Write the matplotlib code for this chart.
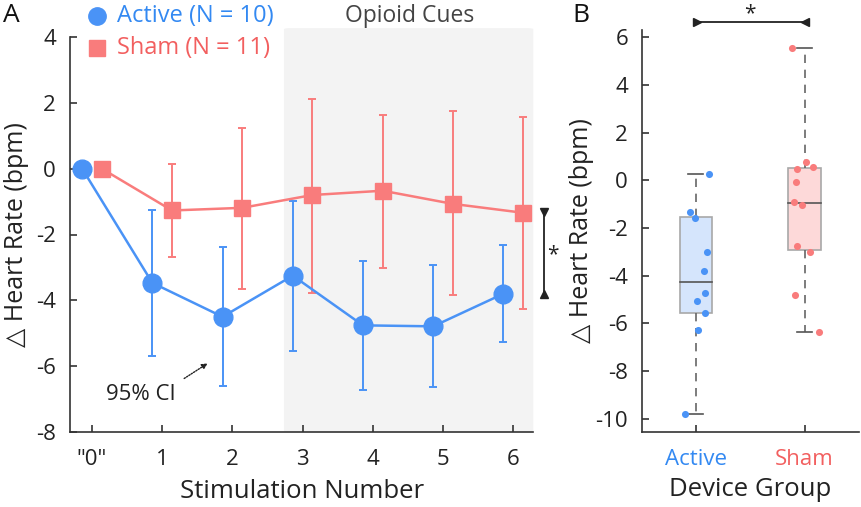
import matplotlib
matplotlib.use("Agg")
import matplotlib.pyplot as plt
from matplotlib.patches import FancyBboxPatch, Rectangle
import numpy as np

plt.rcParams['font.family'] = ['Open Sans', 'DejaVu Sans']

# ---------------- data ----------------
stim = [0, 1, 2, 3, 4, 5, 6]
stim_labels = ['"0"', '1', '2', '3', '4', '5', '6']

active_mean = [0, -3.47, -4.50, -3.25, -4.76, -4.79, -3.80]
active_hi = [0, -1.27, -2.38, -0.97, -2.79, -2.94, -2.31]
active_lo = [0, -5.70, -6.60, -5.53, -6.73, -6.63, -5.26]

sham_mean = [0, -1.27, -1.19, -0.80, -0.67, -1.07, -1.34]
sham_hi = [0, 0.14, 1.23, 2.11, 1.64, 1.74, 1.58]
sham_lo = [0, -2.69, -3.65, -3.77, -3.01, -3.85, -4.25]

groups = ['Active', 'Sham']
active_pts = [0.25, -1.33, -1.58, -3.03, -3.79, -4.73, -5.08, -5.57, -6.27, -9.81]
active_jit = [1.122, 0.945, 0.988, 1.10, 1.073, 1.08, 1.012, 1.085, 1.016, 0.896]
sham_pts = [5.53, 0.78, 0.57, 0.45, -0.08, -0.92, -1.04, -2.78, -2.99, -4.81, -6.37]
sham_jit = [1.883, 2.009, 2.076, 1.927, 1.917, 1.902, 1.972, 1.927, 2.046, 1.915, 2.131]
# box stats: whislo, q1, med, q3, whishi
active_box = [-9.79, -5.55, -4.25, -1.54, 0.25]
sham_box = [-6.35, -2.91, -0.94, 0.52, 5.53]

BLUE = '#4A93F6'
RED = '#F97C7C'
BLUE_T = '#3389F2'
RED_T = '#F25F5F'
DARK = '#333333'
TXT = '#222222'

fig = plt.figure(figsize=(8.62, 5.07), dpi=100)

# ---------------- Panel A ----------------
axA = fig.add_axes([70/862, 1-432/507, 463.3/862, 395/507])
off = 0.14
xa = np.array(stim) - off
xs = np.array(stim) + off

shade = FancyBboxPatch((2.735, -8), 6.286 - 2.735, 12.27, boxstyle="round,pad=0,rounding_size=0.08",
                       facecolor='#F3F3F3', edgecolor='none', zorder=0, clip_on=False,
                       mutation_aspect=33/70.2)
axA.add_patch(shade)

am = np.array(active_mean); sm = np.array(sham_mean)
aerr = [am - np.array(active_lo), np.array(active_hi) - am]
serr = [sm - np.array(sham_lo), np.array(sham_hi) - sm]

axA.errorbar(xs[1:], sm[1:], yerr=[serr[0][1:], serr[1][1:]], fmt='none', ecolor=RED,
             elinewidth=1.4, capsize=3, capthick=1.4, zorder=2)
axA.errorbar(xa[1:], am[1:], yerr=[aerr[0][1:], aerr[1][1:]], fmt='none', ecolor=BLUE,
             elinewidth=1.4, capsize=3, capthick=1.4, zorder=2)
axA.plot(xs, sm, color=RED, lw=1.8, marker='s', ms=12, zorder=3)
axA.plot(xa, am, color=BLUE, lw=1.8, marker='o', ms=13.5, zorder=4)

axA.set_xlim(-0.313, 6.286)
axA.set_ylim(-8, 4)
axA.set_xticks(stim)
axA.set_xticklabels(stim_labels)
axA.set_yticks([-8, -6, -4, -2, 0, 2, 4])
axA.set_yticklabels(['-8', '-6', '-4', '-2', '0', '2', '4'])
for s in ['top', 'right']:
    axA.spines[s].set_visible(False)
for s in ['left', 'bottom']:
    axA.spines[s].set_color(DARK)
    axA.spines[s].set_linewidth(1.2)
axA.tick_params(direction='in', length=5, width=1.2, color=DARK, labelsize=16,
                labelcolor=TXT)
axA.tick_params(axis='x', pad=12)
axA.tick_params(axis='y', pad=10)
axA.set_xlabel('Stimulation Number', fontsize=18.5, color=TXT, labelpad=7)
axA.set_ylabel('△ Heart Rate (bpm)', fontsize=18, color=TXT, labelpad=5)

# legend (manual)
axA.plot([0.07], [4.64], marker='o', ms=12.5, color=BLUE, clip_on=False, ls='none')
axA.plot([0.07], [3.67], marker='s', ms=12, color=RED, clip_on=False, ls='none')
axA.text(0.36, 4.64, 'Active (N = 10)', color=BLUE_T, fontsize=17, va='center', ha='left')
axA.text(0.36, 3.67, 'Sham (N = 11)', color=RED_T, fontsize=17, va='center', ha='left')
axA.text(4.52, 4.64, 'Opioid Cues', color='#444444', fontsize=16.5, va='center', ha='center')

# 95% CI annotation
axA.annotate('', xy=(1.68, -5.87), xytext=(1.28, -6.42),
             arrowprops=dict(arrowstyle='-|>', linestyle=(0, (1, 1)), color=TXT, lw=1,
                             mutation_scale=8))
axA.text(0.70, -6.85, '95% CI', fontsize=16, color=TXT, ha='center', va='center')

# significance bracket
bx = 6.44
axA.plot([bx, bx], [sham_mean[6] + 0.03, active_mean[6]], color=TXT, lw=1.3, clip_on=False)
axA.plot([bx], [sham_mean[6] + 0.03], marker='v', ms=6, color=TXT, clip_on=False)
axA.plot([bx], [active_mean[6]], marker='^', ms=6, color=TXT, clip_on=False)
axA.text(6.57, -2.6, '*', fontsize=15, color=TXT, ha='center', va='center')

fig.text(3/862, 1-16/507, 'A', fontsize=19, va='center', ha='left', color='#111111')
fig.text(572/862, 1-16/507, 'B', fontsize=19, va='center', ha='left', color='#111111')

# ---------------- Panel B ----------------
axB = fig.add_axes([642/862, 1-432/507, 217/862, 402/507])
bw = 0.3
for i, (st, fc) in enumerate([(active_box, '#D5E5FC'), (sham_box, '#FDD9D9')]):
    pos = i + 1
    wl, q1, med, q3, wh = st
    axB.add_patch(Rectangle((pos - bw/2, q1), bw, q3 - q1, facecolor=fc, edgecolor='#A8A8A8',
                            lw=1.2, zorder=1))
    axB.plot([pos - bw/2, pos + bw/2], [med, med], color='#555555', lw=1.2, zorder=2)
    axB.plot([pos, pos], [q3, wh], color='#666666', lw=1.2, ls=(0, (5, 4)), zorder=1)
    axB.plot([pos, pos], [q1, wl], color='#666666', lw=1.2, ls=(0, (5, 4)), zorder=1)
    axB.plot([pos - 0.07, pos + 0.07], [wh, wh], color='#555555', lw=1.2, zorder=1)
    axB.plot([pos - 0.07, pos + 0.07], [wl, wl], color='#555555', lw=1.2, zorder=1)

axB.scatter(active_jit, active_pts, s=26, color=BLUE, zorder=3, linewidths=0)
axB.scatter(sham_jit, sham_pts, s=26, color=RED, zorder=3, linewidths=0)

axB.set_xlim(0.505, 2.5)
axB.set_ylim(-10.56, 6.3)
axB.set_xticks([1, 2])
axB.set_xticklabels(groups)
axB.get_xticklabels()[0].set_color(BLUE_T)
axB.get_xticklabels()[1].set_color(RED_T)
axB.set_yticks([-10, -8, -6, -4, -2, 0, 2, 4, 6])
axB.set_yticklabels(['-10', '-8', '-6', '-4', '-2', '0', '2', '4', '6'])
for s in ['top', 'right']:
    axB.spines[s].set_visible(False)
for s in ['left', 'bottom']:
    axB.spines[s].set_color(DARK)
    axB.spines[s].set_linewidth(1.2)
axB.tick_params(direction='in', length=5, width=1.2, color=DARK, labelsize=16)
axB.tick_params(axis='x', pad=12)
axB.tick_params(axis='y', labelcolor=TXT, pad=10)
axB.set_xlabel('Device Group', fontsize=18.5, color=TXT, labelpad=5)
axB.set_ylabel('△ Heart Rate (bpm)', fontsize=18, color=TXT, labelpad=1)

# significance bracket B
by = 6.62
axB.plot([1.01, 2.0], [by, by], color=TXT, lw=1.3, clip_on=False)
axB.plot([1.01], [by], marker='>', ms=6, color=TXT, clip_on=False)
axB.plot([2.0], [by], marker='<', ms=6, color=TXT, clip_on=False)
axB.text(1.5, 7.0, '*', fontsize=15, color=TXT, ha='center', va='center')

fig.savefig('out.png', dpi=100)
